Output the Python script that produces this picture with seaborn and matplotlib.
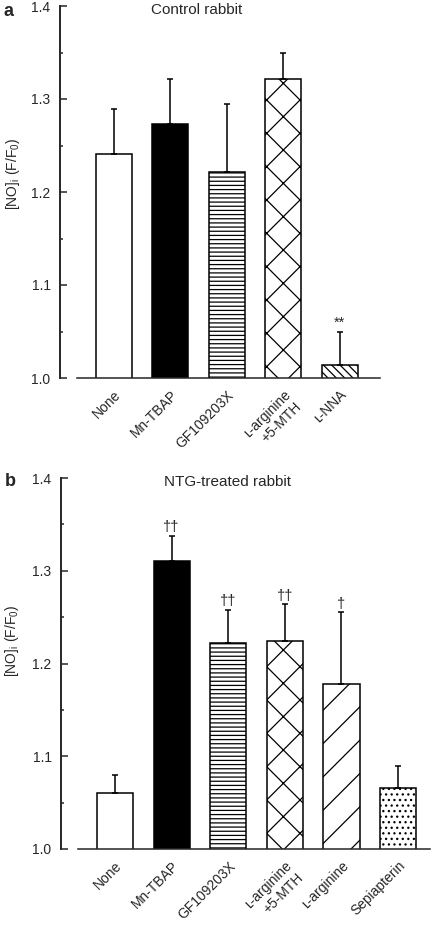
import matplotlib
matplotlib.use("Agg")
import matplotlib.pyplot as plt
import seaborn as sns

# valores (media y error estandar hacia arriba)
a_grupos = ["None", "Mn-TBAP", "GF109203X", "ʟ-arginine\n+5-MTH", "ʟ-NNA"]
a_media = [1.241, 1.273, 1.221, 1.322, 1.014]
a_error = [0.048, 0.049, 0.074, 0.027, 0.036]
a_marca = ["", "", "", "", "**"]
a_hatch = ["", "", "----", "x", "\\\\\\\\"]
a_color = ["white", "black", "white", "white", "white"]

b_grupos = ["None", "Mn-TBAP", "GF109203X", "ʟ-arginine\n+5-MTH", "ʟ-arginine", "Sepiapterin"]
b_media = [1.060, 1.310, 1.222, 1.224, 1.178, 1.066]
b_error = [0.020, 0.028, 0.036, 0.040, 0.077, 0.023]
b_marca = ["", "††", "††", "††", "†", ""]
b_hatch = ["", "", "----", "x", "/", "..."]
b_color = ["white", "black", "white", "white", "white", "white"]

yticks = [1.0, 1.1, 1.2, 1.3, 1.4]

sns.set_style("ticks")
plt.rcParams["font.family"] = ["Liberation Sans", "DejaVu Sans"]
plt.rcParams["hatch.linewidth"] = 0.9
plt.rcParams["mathtext.default"] = "regular"


def panel(ax, grupos, media, error, marca, hatches, colores, titulo, xlim, titulo_x):
    sns.barplot(x=grupos, y=media, hue=grupos, palette=colores, legend=False,
                edgecolor="black", linewidth=1.1, width=0.64, ax=ax)
    # despine antes de tocar los ticks: mover el eje los vuelve a crear
    sns.despine(ax=ax, offset={"left": 12})
    ax.spines["left"].set_linewidth(1.4)
    ax.spines["bottom"].set_linewidth(1.1)
    for p, h in zip(ax.patches, hatches):
        p.set_hatch(h)
    centros = [p.get_x() + p.get_width() / 2 for p in ax.patches]
    ax.errorbar(centros, media, yerr=[[0] * len(media), error], fmt="none",
                ecolor="black", elinewidth=1.1, capsize=2.2, capthick=1.1, zorder=1)
    for c, m, e, t in zip(centros, media, error, marca):
        if t:
            ax.annotate(t, (c, m + e), xytext=(0, 1), textcoords="offset points",
                        ha="center", va="bottom", fontsize=10.5)
    ax.set_ylim(1.0, 1.4)
    ax.set_xlim(*xlim)
    ax.set_yticks(yticks)
    ax.set_yticklabels([f"{v:.1f}" for v in yticks], fontsize=10)
    ax.set_yticks([1.05, 1.15, 1.25, 1.35], minor=True)
    ax.tick_params(axis="y", which="major", direction="in", length=5, width=1.1, pad=7)
    ax.tick_params(axis="y", which="minor", direction="in", length=2.5, width=1.1)
    ax.tick_params(axis="x", length=0, pad=7)
    ax.set_xticks(range(len(grupos)))
    ax.set_xticklabels(grupos, fontsize=10, rotation=45, ha="right", va="top",
                       rotation_mode="anchor", multialignment="right")
    ax.set_xlabel("")
    ax.set_ylabel("[NO]$_i$ (F/F$_0$)", fontsize=10)
    ax.text(titulo_x, 0.99, titulo, transform=ax.transAxes, ha="center",
            va="center", fontsize=11)


fig = plt.figure(figsize=(4.32, 9.26), dpi=100)
ax_a = fig.add_axes([77 / 432, 1 - 378 / 926, 303 / 432, 372 / 926])
ax_b = fig.add_axes([78 / 432, 1 - 849 / 926, 352 / 432, 371 / 926])

panel(ax_a, a_grupos, a_media, a_error, a_marca, a_hatch, a_color,
      "Control rabbit", (-0.656, 4.716), 0.396)
panel(ax_b, b_grupos, b_media, b_error, b_marca, b_hatch, b_color,
      "NTG-treated rabbit", (-0.654, 5.565), 0.426)

ax_a.yaxis.set_label_coords(-0.183, 0.55)
ax_b.yaxis.set_label_coords(-0.162, 0.56)

fig.text(4 / 432, 1 - 11 / 926, "a", fontsize=13, fontweight="bold", va="center")
fig.text(5 / 432, 1 - 481 / 926, "b", fontsize=13, fontweight="bold", va="center")

fig.savefig("out.png", dpi=100)
